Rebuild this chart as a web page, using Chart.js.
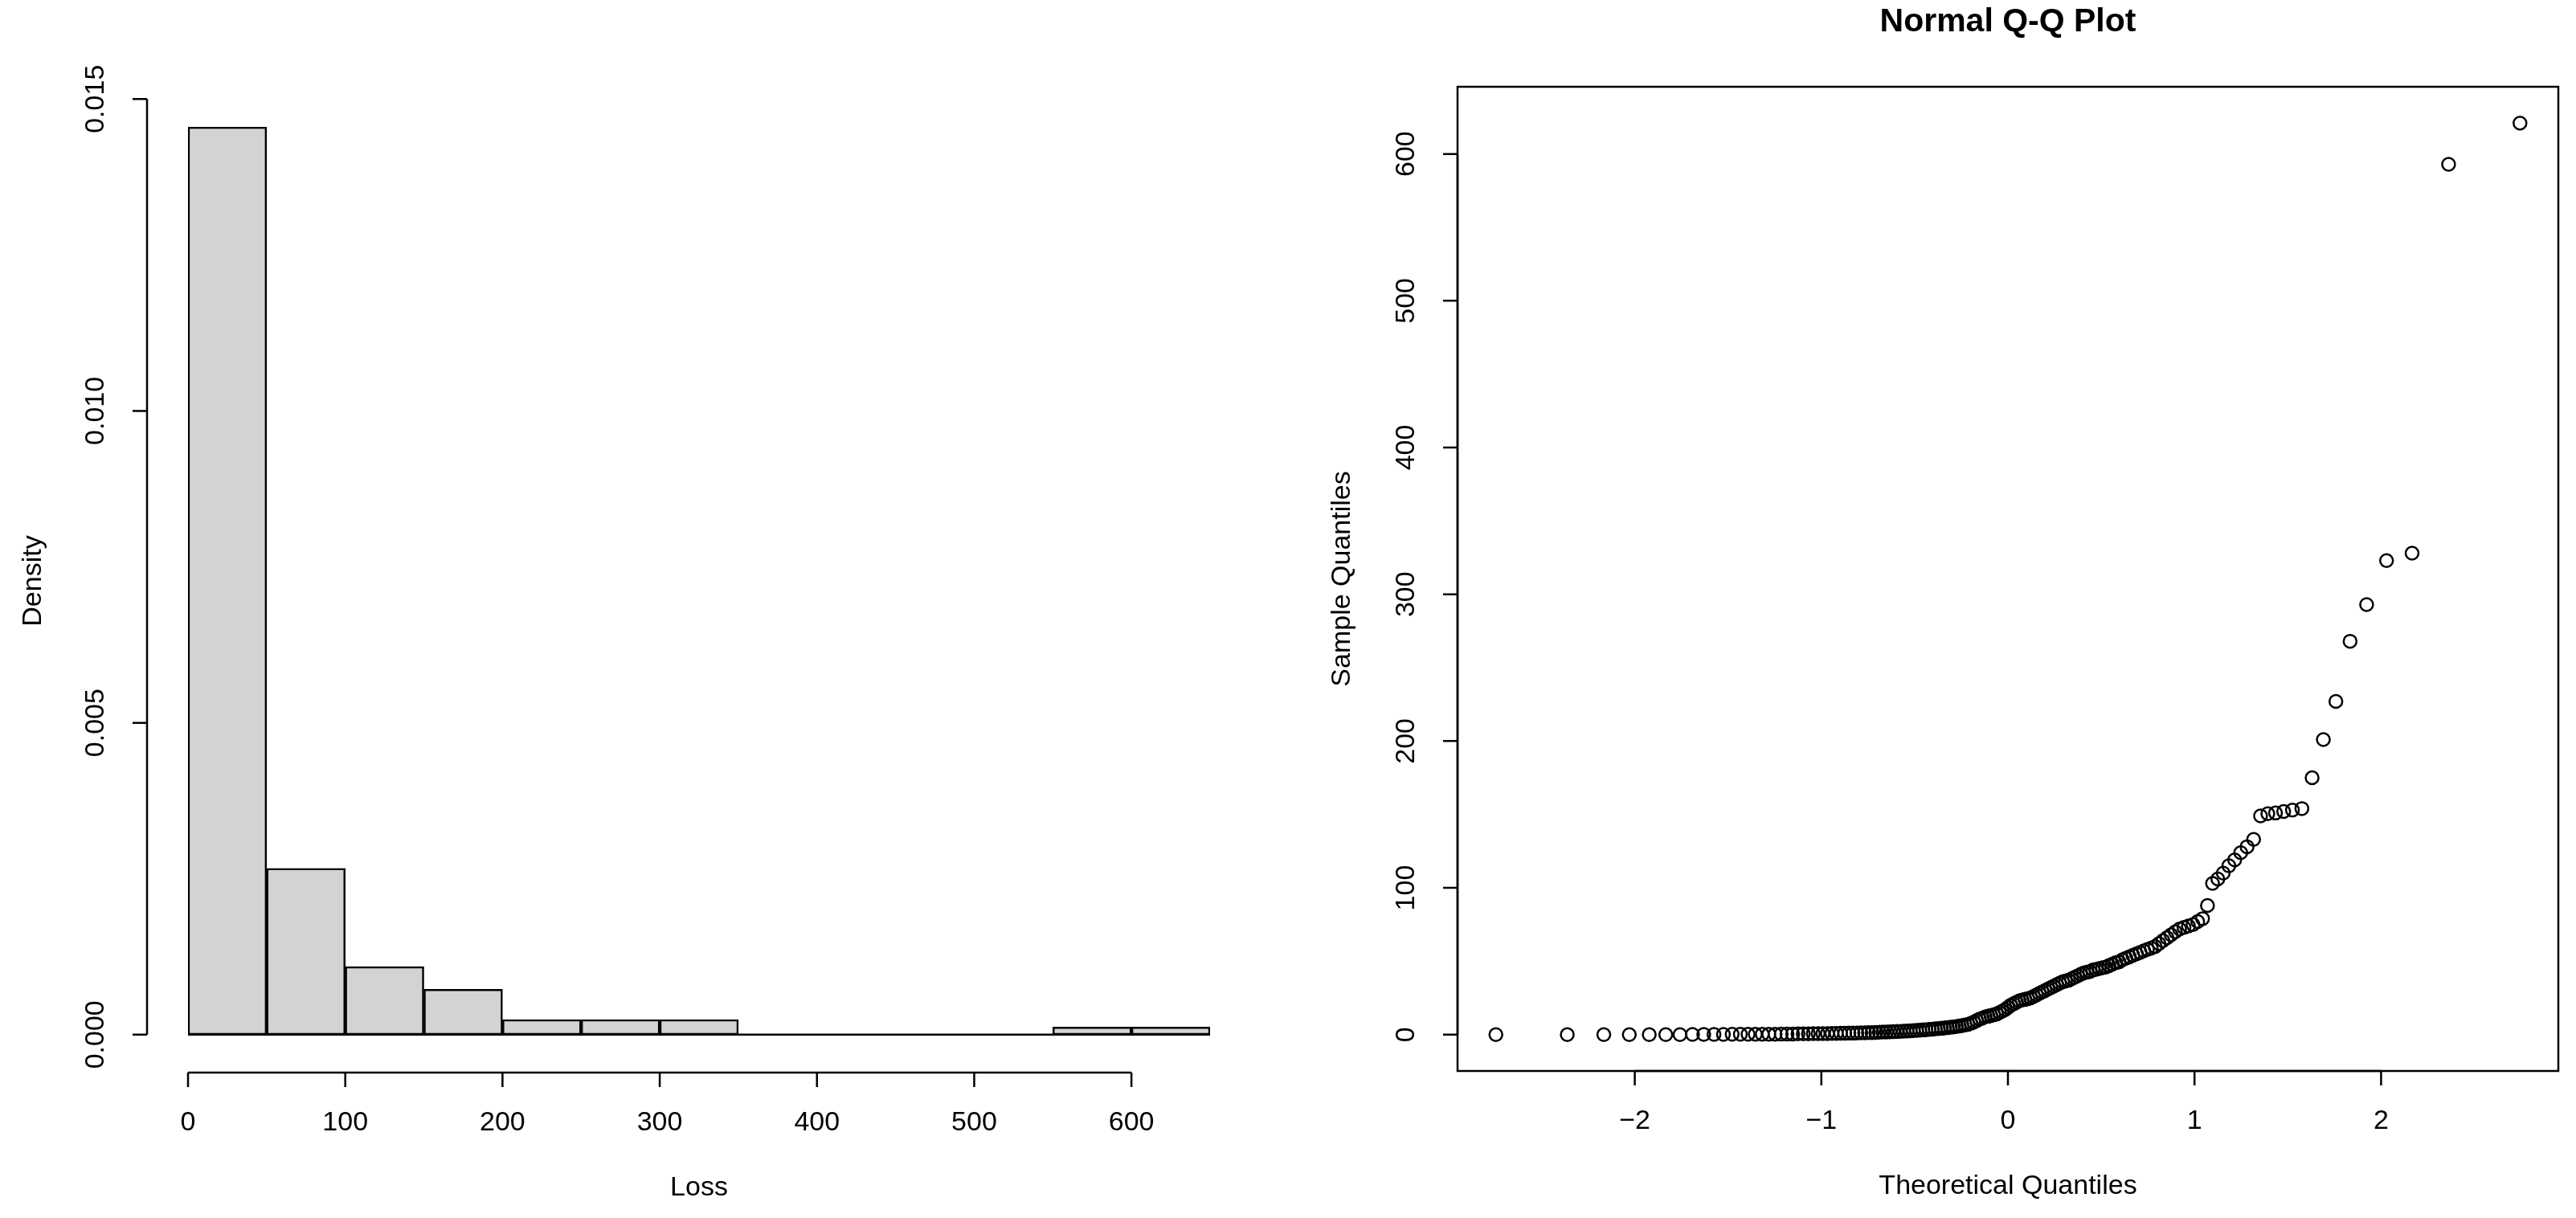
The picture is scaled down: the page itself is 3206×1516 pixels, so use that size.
<!DOCTYPE html>
<html><head><meta charset="utf-8">
<script src="https://cdn.jsdelivr.net/npm/chart.js@4/dist/chart.umd.min.js"></script>
<style>body{margin:0;background:#fff;width:3206px;height:1516px;overflow:hidden}canvas{position:absolute;top:0}</style>
</head><body>
<canvas id="h" width="1603" height="1516" style="left:0"></canvas>
<canvas id="q" width="1603" height="1516" style="left:1603px"></canvas>
<script>
const binLabels = ["0-50","50-100","100-150","150-200","200-250","250-300","300-350","350-400","400-450","450-500","500-550","550-600","600-650"];
const binDensity = [0.01455,0.002667,0.001091,0.000727,0.000242,0.000242,0.000242,0,0,0,0,0.000121,0.000121];
const histXTicks = [0,100,200,300,400,500,600];
const histYTicks = [0,0.005,0.010,0.015];
const histYLabels = ["0.000","0.005","0.010","0.015"];
const sampleValues = [0,0,0,0,0,0,0,0.1,0.1,0.1,0.1,0.2,0.2,0.2,0.2,0.3,0.3,0.3,0.4,0.4,0.4,0.5,0.5,0.5,0.6,0.6,0.7,0.7,0.8,0.8,0.9,0.9,1.0,1.0,1.1,1.2,1.2,1.3,1.4,1.5,
1.6,1.7,1.8,1.9,2.0,2.1,2.2,2.3,2.4,2.6,2.7,2.9,3.0,3.2,3.3,3.5,3.7,3.9,4.1,4.3,4.5,4.7,5.0,5.2,5.5,5.8,6.1,6.5,7.0,7.6,
8.5,9.5,10.5,11.2,12,12.5,13,13.5,14,15,16,17,18.5,20,21,22,23,23.5,24,24.5,25,26,27,28,29,30,31,32,33,34,35,36,36.5,37,38,39,40,41,42,42.5,43,44,44.5,45,45.5,46,47,48,49,49.5,
51,52,53,54,55,56,57,58,59,60,62,64,66,68,70,72,73,74,75,77,79,88,
103,106,110,115,119,124,128,133,149,150.5,151,152,153,154,175,201,227,268,293,323,328,593,621];
const qqXTicks = [-2,-1,0,1,2];
const qqYTicks = [0,100,200,300,400,500,600];

// theoretical normal quantiles (R's qqnorm positions)
function qnorm(p){const a=[-39.69683028665376,220.9460984245205,-275.9285104469687,138.357751867269,-30.66479806614716,2.506628277459239],b=[-54.47609879822406,161.5858368580409,-155.6989798598866,66.80131188771972,-13.28068155288572],c=[-0.007784894002430293,-0.3223964580411365,-2.400758277161838,-2.549732539343734,4.374664141464968,2.938163982698783],d=[0.007784695709041462,0.3224671290700398,2.445134137142996,3.754408661907416];const pl=0.02425;let q,r;if(p<pl){q=Math.sqrt(-2*Math.log(p));return(((((c[0]*q+c[1])*q+c[2])*q+c[3])*q+c[4])*q+c[5])/((((d[0]*q+d[1])*q+d[2])*q+d[3])*q+1);}if(p>1-pl){q=Math.sqrt(-2*Math.log(1-p));return-(((((c[0]*q+c[1])*q+c[2])*q+c[3])*q+c[4])*q+c[5])/((((d[0]*q+d[1])*q+d[2])*q+d[3])*q+1);}q=p-0.5;r=q*q;return(((((a[0]*r+a[1])*r+a[2])*r+a[3])*r+a[4])*r+a[5])*q/(((((b[0]*r+b[1])*r+b[2])*r+b[3])*r+b[4])*r+1);}
const sorted = sampleValues.slice().sort((a,b)=>a-b);
const n = sorted.length, aa = n<=10?3/8:0.5;
const qqPoints = sorted.map((v,i)=>({x:qnorm((i+1-aa)/(n+1-2*aa)),y:v}));

const FONT = '"Liberation Sans", Arial, sans-serif';
function rAxes(opts){return {id:'raxes',afterDraw(chart){
  const ctx=chart.ctx, xs=chart.scales.x, ys=chart.scales.y, ca=chart.chartArea;
  const xp = v=>opts.xMap?xs.getPixelForValue(opts.xMap(v)):xs.getPixelForValue(v);
  ctx.save(); ctx.strokeStyle='#000'; ctx.fillStyle='#000'; ctx.lineWidth=2.5;
  ctx.font='34px '+FONT;
  if(opts.baseline){const b=ys.getPixelForValue(0); ctx.beginPath(); ctx.moveTo(xp(opts.baseline[0]),b); ctx.lineTo(xp(opts.baseline[1]),b); ctx.stroke();}
  const xa = opts.xAxisY(ca), ya = opts.yAxisX(ca);
  const x0=xp(opts.xt[0]), x1=xp(opts.xt[opts.xt.length-1]);
  ctx.beginPath(); ctx.moveTo(x0,xa); ctx.lineTo(x1,xa);
  opts.xt.forEach(v=>{const p=xp(v); ctx.moveTo(p,xa); ctx.lineTo(p,xa+18);});
  ctx.stroke();
  ctx.textAlign='center'; ctx.textBaseline='middle';
  opts.xt.forEach((v,i)=>{ctx.fillText(opts.xl[i],xp(v),xa+63);});
  const y0=ys.getPixelForValue(opts.yt[0]), y1=ys.getPixelForValue(opts.yt[opts.yt.length-1]);
  ctx.beginPath(); ctx.moveTo(ya,y0); ctx.lineTo(ya,y1);
  opts.yt.forEach(v=>{const p=ys.getPixelForValue(v); ctx.moveTo(ya,p); ctx.lineTo(ya-18,p);});
  ctx.stroke();
  opts.yt.forEach((v,i)=>{const p=ys.getPixelForValue(v);
    ctx.save(); ctx.translate(ya-63,p); ctx.rotate(-Math.PI/2); ctx.fillText(opts.yl[i],0,0); ctx.restore();});
  const cx=opts.xTitleX?opts.xTitleX(xp):(ca.left+ca.right)/2, cy=(ca.top+ca.bottom)/2;
  ctx.fillText(opts.xTitle,cx,xa+144);
  ctx.save(); ctx.translate(opts.yTitleX,cy); ctx.rotate(-Math.PI/2); ctx.fillText(opts.yTitle,0,0); ctx.restore();
  if(opts.box){ctx.strokeRect(ca.left,ca.top,ca.right-ca.left,ca.bottom-ca.top);}
  if(opts.title){ctx.font='bold 41px '+FONT; ctx.fillText(opts.title,cx,28);}
  ctx.restore();
}};}

const common = {responsive:false, animation:false, devicePixelRatio:1,
  plugins:{legend:{display:false},tooltip:{enabled:false}}};

new Chart(document.getElementById('h'),{type:'bar',
  data:{labels:binLabels,datasets:[{data:binDensity,backgroundColor:'#d3d3d3',borderColor:'#000',borderWidth:2.5,borderSkipped:false,barPercentage:1,categoryPercentage:1}]},
  options:{...common, layout:{padding:{left:234,right:97,top:113,bottom:183}},
    scales:{x:{type:'category',offset:true,display:false},y:{min:-0.000582,max:0.015132,display:false}}},
  plugins:[rAxes({xt:histXTicks,xl:histXTicks.map(String),yt:histYTicks,yl:histYLabels,xMap:v=>(v-25)/50,baseline:[0,650],
    xAxisY:ca=>ca.bottom+2,yAxisX:ca=>ca.left-51,xTitleX:xp=>xp(325),xTitle:'Loss',yTitle:'Density',yTitleX:42})]});

new Chart(document.getElementById('q'),{type:'scatter',
  data:{datasets:[{data:qqPoints,pointStyle:'circle',pointRadius:8,borderWidth:2.5,borderColor:'#000',backgroundColor:'rgba(0,0,0,0)'}]},
  options:{...common, layout:{padding:{left:211,right:22,top:108,bottom:183}},
    scales:{x:{type:'linear',min:-2.95,max:2.95,display:false},y:{min:-24.8,max:645.8,display:false}}},
  plugins:[rAxes({xt:qqXTicks,xl:['\u22122','\u22121','0','1','2'],yt:qqYTicks,yl:qqYTicks.map(String),
    xAxisY:ca=>ca.bottom,yAxisX:ca=>ca.left,xTitle:'Theoretical Quantiles',yTitle:'Sample Quantiles',yTitleX:68,box:true,title:'Normal Q-Q Plot'})]});
</script></body></html>
